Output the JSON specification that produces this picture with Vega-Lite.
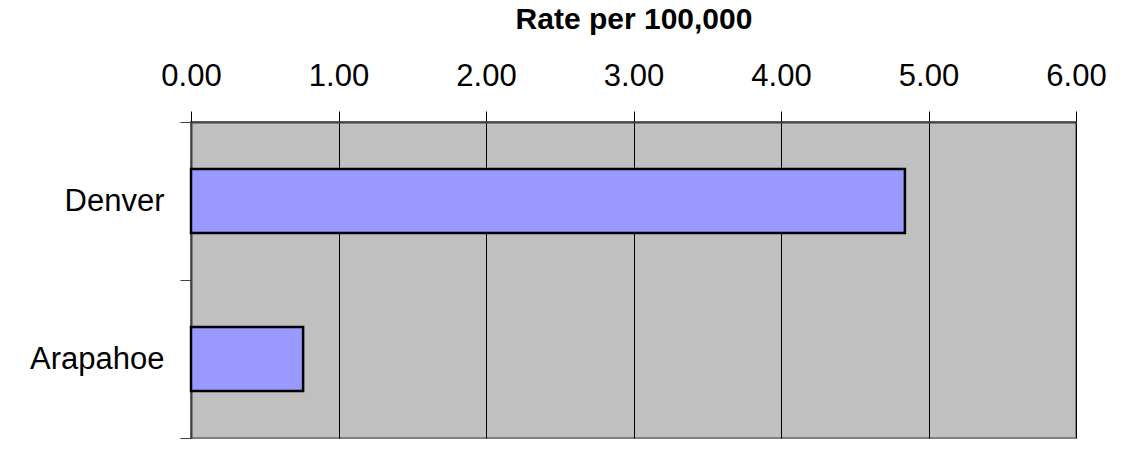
{
  "$schema": "https://vega.github.io/schema/vega-lite/v6.json",
  "width": 885,
  "height": 316,
  "autosize": {"type": "none"},
  "padding": {"left": 191, "top": 122, "right": 55, "bottom": 22},
  "background": "white",
  "data": {
    "values": [
      {"county": "Denver", "rate": 4.84},
      {"county": "Arapahoe", "rate": 0.76}
    ]
  },
  "mark": {"type": "bar", "fill": "#9999FF", "stroke": "black", "strokeWidth": 2.5, "height": {"band": 0.405}},
  "encoding": {
    "y": {
      "field": "county",
      "type": "nominal",
      "sort": ["Denver", "Arapahoe"],
      "scale": {"paddingInner": 0, "paddingOuter": 0},
      "axis": {
        "title": null,
        "tickBand": "extent",
        "tickSize": 11,
        "tickColor": "#404040",
        "tickWidth": 1,
        "domainColor": "#404040",
        "domainWidth": 2,
        "labelFont": "Liberation Sans",
        "labelFontSize": 31,
        "labelColor": "black",
        "labelPadding": 16
      }
    },
    "x": {
      "field": "rate",
      "type": "quantitative",
      "scale": {"domain": [0, 6], "nice": false},
      "axis": {
        "orient": "top",
        "title": "Rate per 100,000",
        "titleFont": "Liberation Sans",
        "titleFontSize": 30,
        "titleFontWeight": "bold",
        "titleColor": "black",
        "titleBaseline": "alphabetic",
        "titleY": -94,
        "values": [0, 1, 2, 3, 4, 5, 6],
        "format": ".2f",
        "labelFont": "Liberation Sans",
        "labelFontSize": 31,
        "labelColor": "black",
        "labelBaseline": "alphabetic",
        "labelPadding": 26,
        "labelFlush": false,
        "labelOverlap": false,
        "tickSize": 11,
        "tickColor": "black",
        "tickWidth": 1,
        "domainColor": "#404040",
        "domainWidth": 2,
        "grid": true,
        "gridColor": "black",
        "gridWidth": 1,
        "gridOpacity": 1
      }
    }
  },
  "config": {
    "view": {"fill": "#C0C0C0", "stroke": "#808080", "strokeWidth": 2}
  }
}
